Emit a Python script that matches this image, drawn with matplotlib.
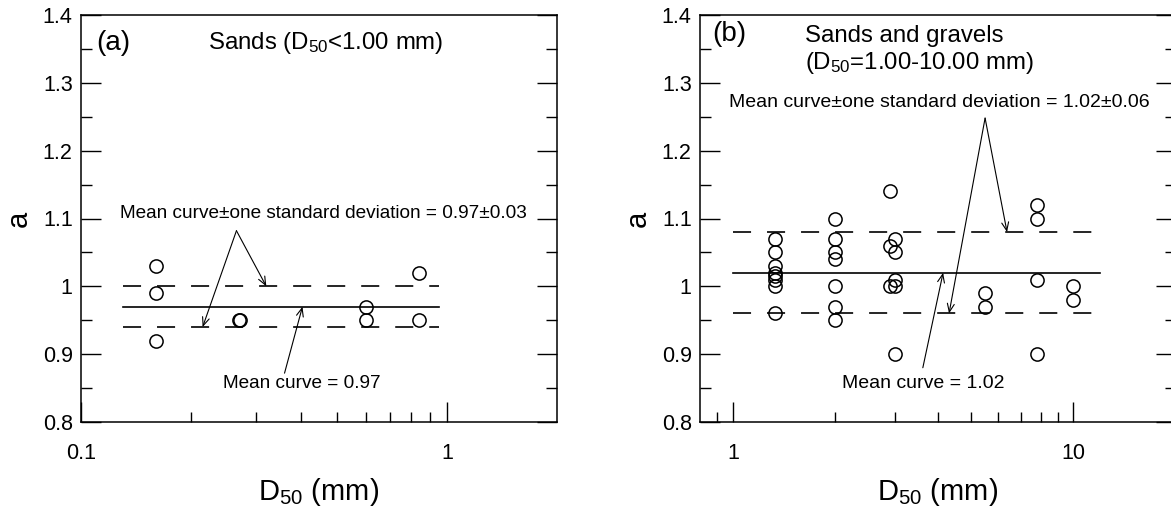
import matplotlib
matplotlib.use("Agg")
import matplotlib.pyplot as plt
from matplotlib.ticker import FixedLocator, NullFormatter

plt.rcParams['font.family'] = ['Liberation Sans', 'DejaVu Sans']
plt.rcParams['mathtext.fontset'] = 'custom'
plt.rcParams['mathtext.rm'] = 'Liberation Sans'
plt.rcParams['mathtext.default'] = 'regular'
plt.rcParams['lines.scale_dashes'] = False

# panel (a): sands
a_d50 = [0.16, 0.16, 0.16, 0.27, 0.272, 0.6, 0.6, 0.84, 0.84]
a_val = [1.03, 0.99, 0.92, 0.95, 0.95, 0.97, 0.95, 1.02, 0.95]
a_line_x = [0.13, 0.95]
a_mean, a_std = 0.97, 0.03

# panel (b): sands and gravels
b_d50 = [1.33, 1.33, 1.33, 1.33, 1.33, 1.33, 1.33, 1.33,
         2.0, 2.0, 2.0, 2.0, 2.0, 2.0, 2.0,
         2.9, 3.0, 2.9, 3.0, 3.0, 2.9, 3.0, 3.0,
         5.5, 5.5,
         7.8, 7.8, 7.8, 7.8,
         10.0, 10.0]
b_val = [1.07, 1.05, 1.03, 1.02, 1.015, 1.01, 1.00, 0.96,
         1.10, 1.07, 1.05, 1.04, 1.00, 0.97, 0.95,
         1.14, 1.07, 1.06, 1.05, 1.01, 1.00, 1.00, 0.90,
         0.99, 0.97,
         1.12, 1.10, 1.01, 0.90,
         1.00, 0.98]
b_line_x = [1.0, 12.0]
b_mean, b_std = 1.02, 0.06

y_ticks = [0.8, 0.9, 1.0, 1.1, 1.2, 1.3, 1.4]
y_labels = ['0.8', '0.9', '1', '1.1', '1.2', '1.3', '1.4']

W, H = 1171, 516
fig = plt.figure(figsize=(W / 100, H / 100), dpi=100)
ax_a = fig.add_axes([81 / W, 94 / H, 476 / W, 407 / H])
ax_b = fig.add_axes([700 / W, 94 / H, 476 / W, 407 / H])


def setup(ax, xlim, xmajor, xlabels, xminor):
    ax.set_xscale('log')
    ax.set_xlim(xlim)
    ax.set_ylim(0.8, 1.4)
    ax.xaxis.set_major_locator(FixedLocator(xmajor))
    ax.set_xticklabels(xlabels)
    ax.xaxis.set_minor_locator(FixedLocator(xminor))
    ax.xaxis.set_minor_formatter(NullFormatter())
    ax.set_yticks(y_ticks)
    ax.set_yticklabels(y_labels)
    ax.yaxis.set_minor_locator(FixedLocator([0.85, 0.95, 1.05, 1.15, 1.25, 1.35]))
    ax.tick_params(axis='x', which='both', direction='in', top=False, width=1,
                   labelsize=15.5, pad=15)
    ax.tick_params(axis='x', which='major', length=14.5)
    ax.tick_params(axis='x', which='minor', length=7)
    ax.tick_params(axis='y', which='both', direction='in', left=True, right=True,
                   width=1, labelsize=15.5, pad=6)
    ax.tick_params(axis='y', which='major', length=14.5)
    ax.tick_params(axis='y', which='minor', length=8)
    for s in ax.spines.values():
        s.set_linewidth(1.1)
    ax.set_xlabel('D$_{50}$ (mm)', fontsize=21, labelpad=9)
    ax.set_ylabel('a', fontsize=21, labelpad=7)


def draw(ax, x, y, lx, mean, std):
    ax.plot(lx, [mean, mean], color='black', lw=1.2)
    ax.plot(lx, [mean + std, mean + std], color='black', lw=1.2, dashes=(13, 11.5))
    ax.plot(lx, [mean - std, mean - std], color='black', lw=1.2, dashes=(13, 11.5))
    ax.plot(x, y, 'o', mfc='none', mec='black', ms=9.5, mew=1.1, ls='none')


arrow = dict(arrowstyle='->,head_length=0.6,head_width=0.25', color='black', lw=0.8,
             shrinkA=0, shrinkB=0)

# (a)
setup(ax_a, (0.1, 2.0), [0.1, 1], ['0.1', '1'],
      [0.2, 0.3, 0.4, 0.5, 0.6, 0.7, 0.8, 0.9])
draw(ax_a, a_d50, a_val, a_line_x, a_mean, a_std)
ax_a.text(0.032, 0.931, '(a)', transform=ax_a.transAxes, fontsize=20, va='center')
ax_a.text(0.267, 0.931, 'Sands (D$_{50}$<1.00 mm)', transform=ax_a.transAxes,
          fontsize=17.3, va='center')
ax_a.text(0.082, 0.5135, 'Mean curve\u00b1one standard deviation = 0.97\u00b10.03',
          transform=ax_a.transAxes, fontsize=13.7, va='center')
ax_a.annotate('', xy=(0.321, 1.0), xytext=(0.266, 1.082), arrowprops=arrow)
ax_a.annotate('', xy=(0.215, 0.94), xytext=(0.266, 1.082), arrowprops=arrow)
ax_a.text(0.298, 0.0958, 'Mean curve = 0.97', transform=ax_a.transAxes,
          fontsize=13.7, va='center')
ax_a.annotate('', xy=(0.403, 0.97), xytext=(0.36, 0.872), arrowprops=arrow)

# (b)
setup(ax_b, (0.8, 20.0), [1, 10], ['1', '10'],
      [0.9, 2, 3, 4, 5, 6, 7, 8, 9])
draw(ax_b, b_d50, b_val, b_line_x, b_mean, b_std)
ax_b.text(0.025, 0.953, '(b)', transform=ax_b.transAxes, fontsize=20, va='center')
ax_b.text(0.221, 0.948, 'Sands and gravels', transform=ax_b.transAxes,
          fontsize=17.3, va='center')
ax_b.text(0.221, 0.882, '(D$_{50}$=1.00-10.00 mm)', transform=ax_b.transAxes,
          fontsize=17.3, va='center')
ax_b.text(0.061, 0.784, 'Mean curve\u00b1one standard deviation = 1.02\u00b10.06',
          transform=ax_b.transAxes, fontsize=14, va='center')
ax_b.annotate('', xy=(6.38, 1.08), xytext=(5.5, 1.248), arrowprops=arrow)
ax_b.annotate('', xy=(4.31, 0.96), xytext=(5.5, 1.248), arrowprops=arrow)
ax_b.text(0.298, 0.0958, 'Mean curve = 1.02', transform=ax_b.transAxes,
          fontsize=14, va='center')
ax_b.annotate('', xy=(4.14, 1.02), xytext=(3.61, 0.88), arrowprops=arrow)

fig.savefig('out.png', dpi=100)
